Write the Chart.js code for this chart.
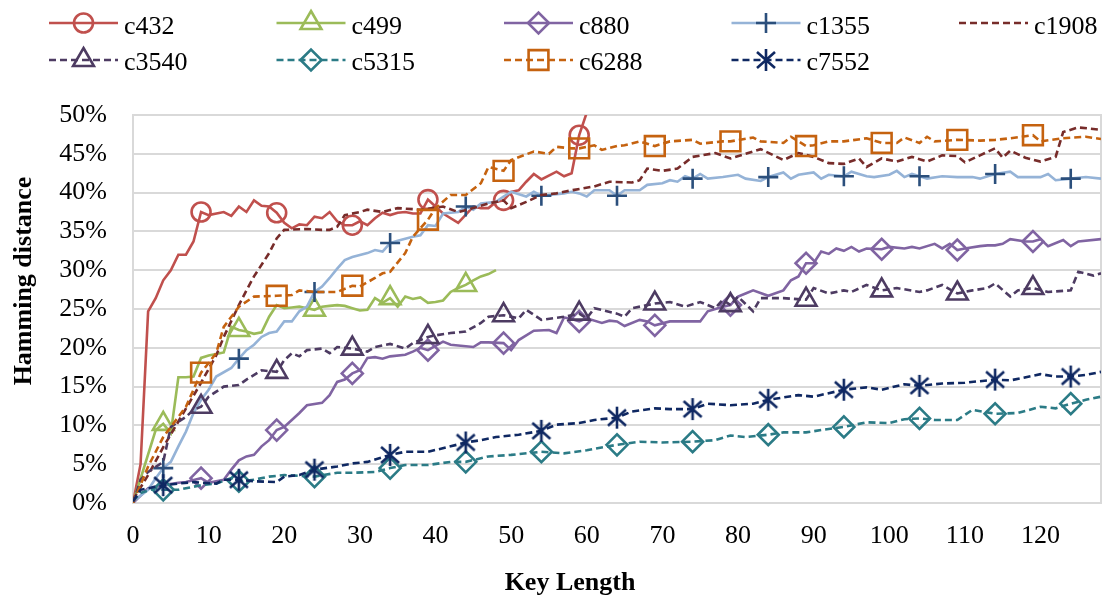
<!DOCTYPE html>
<html>
<head>
<meta charset="utf-8">
<script src="https://cdn.jsdelivr.net/npm/chart.js@4.4.0/dist/chart.umd.min.js"></script>
<style>
  html, body { margin: 0; padding: 0; background: #fff; }
  canvas { display: block; }
</style>
</head>
<body>
<canvas id="grafico" width="1103" height="598"></canvas>
<script>
// Hamming distance (%) per key length, one array of [key length, %] per circuit
const c432 = [[0,0],[1,5],[2,24.7],[3,26.4],[4,28.7],[5,30],[6,32],[7,32],[8,33.7],[9,37.5],[10,37.1],[12,37.5],[13,37],[14,38.2],[15,37.5],[16,39],[17,38.3],[18,38.2],[19,37.4],[20,36.1],[21,35.4],[22,35.9],[23,35.8],[24,36.9],[25,36.7],[26,37.5],[27,36.3],[28,35.8],[29,35.8],[30,36.3],[31,35.8],[32,36.7],[33,37.4],[34,37.1],[35,37.4],[36,37.5],[37,37.3],[38,37.3],[39,39.1],[40,38.2],[41,37.3],[43,36.1],[45,38.2],[46,38],[47,38],[48,38.8],[49,39],[50,40.1],[51,40.3],[52,41.4],[53,42.4],[54,41.7],[56,42.7],[57,42.1],[58,42.5],[59,47.4],[60,50.3]];
const c499 = [[0,0],[3,9.4],[4,10.2],[5,9],[6,16.2],[7,16.2],[8,16.3],[9,18.7],[10,19],[11,19.2],[12,19.4],[13,22.7],[14,22.3],[15,22.1],[16,21.8],[17,22],[18,24],[19,25.5],[20,25.1],[21,25.2],[22,25.3],[23,25.1],[24,24.9],[25,25.3],[26,25.4],[27,25.5],[28,25.4],[29,25.1],[30,24.8],[31,24.9],[32,26.4],[33,25.8],[34,26.4],[35,25.3],[36,26.6],[37,26.3],[38,26.5],[39,25.8],[40,25.9],[41,26.1],[42,27.2],[43,27.7],[44,28.1],[45,28.7],[46,29.2],[47,29.5],[48,30]];
const c880 = [[0,0],[2,1.9],[4,2.3],[6,2.6],[7,2.7],[9,3.2],[10,2.6],[12,3],[13,4.3],[14,5.5],[15,6],[16,6.2],[17,7.3],[18,8.1],[19,9.4],[20,9.8],[21,10.7],[22,11.6],[23,12.6],[25,12.9],[26,13.9],[27,15.6],[28,15.9],[29,16.7],[30,17.1],[31,18.7],[32,18.8],[33,18.6],[34,18.9],[36,19.1],[37,19.5],[38,20],[39,19.7],[41,20.8],[42,20.4],[45,20.1],[46,20.7],[47,20.7],[49,20.6],[50,19.7],[51,21],[53,22.2],[55,22.3],[56,21.9],[57,23.9],[58,23.7],[59,23.4],[60,23.8],[62,23.2],[63,23.5],[64,23.4],[65,22.8],[67,23.6],[68,23.4],[69,22.9],[71,23.4],[75,23.4],[76,24.7],[78,25.3],[79,25.5],[80,26.6],[81,27],[82,27.4],[84,26.7],[86,27.4],[87,28.7],[88,29.2],[89,30.9],[90,30.9],[91,32.4],[92,32.1],[93,32.8],[94,32.5],[95,33],[96,32.4],[97,32.8],[99,32.7],[100,33],[102,32.8],[103,33],[104,32.8],[106,33.4],[107,32.8],[108,33.4],[109,32.6],[110,32.8],[112,33.1],[113,33.2],[114,33.2],[115,33.4],[116,34],[118,33.7],[119,33.7],[120,34],[121,33.1],[123,33.9],[124,33.1],[125,33.7],[128,34]];
const c1355 = [[0,0.2],[2,1.7],[3,3.2],[4,4.5],[5,5.3],[6,7.3],[7,9.2],[8,11.6],[9,13.3],[10,14.6],[11,16.3],[13,17.4],[14,18.6],[15,19.7],[16,20.4],[17,21.4],[18,21.9],[19,22.1],[20,23.4],[21,23.4],[22,24.7],[23,25.3],[24,27.2],[25,27.9],[26,29],[27,30.2],[28,31.3],[29,31.7],[31,32.2],[32,32.6],[33,32.4],[34,33.5],[35,33.8],[37,34.3],[38,34.5],[39,35.8],[40,35.7],[41,37.3],[43,37.5],[44,38.2],[45,37.8],[46,38.6],[48,38.8],[49,39.5],[50,40.1],[52,39.5],[53,40.1],[54,39.6],[55,39.7],[57,39.9],[58,40.1],[59,39.9],[60,39.5],[61,40.3],[63,40.3],[64,39.6],[65,40.3],[67,40.3],[68,41],[70,41.2],[71,41.6],[72,41.4],[73,42.1],[74,41.8],[75,42.4],[76,41.8],[78,42],[80,42.3],[81,41.8],[83,41.5],[84,42],[86,42.6],[87,41.8],[88,42.3],[90,42.6],[91,41.8],[92,42.3],[94,42.1],[95,42.7],[97,42.1],[98,42],[100,42.3],[101,42.8],[102,42],[103,42.4],[104,42.1],[105,41.8],[107,42.1],[109,42],[111,42],[112,41.8],[114,42.4],[116,42.7],[117,42],[120,42],[121,42.4],[122,41.6],[124,41.8],[126,42],[128,41.8]];
const c1908 = [[0,0.4],[2,3.6],[4,7.2],[6,10.5],[9,15.5],[11,19],[12,21.4],[14,25.5],[15,27.4],[16,29.2],[18,32.2],[19,34.1],[20,35.2],[23,35.3],[25,35.2],[26,35.2],[27,35.6],[28,37.1],[30,37.5],[31,37.8],[33,37.5],[35,38],[38,37.8],[41,38.2],[43,37.5],[45,38],[47,38.6],[49,39],[50,38],[52,38.8],[54,39.7],[56,39.9],[58,40.3],[61,40.8],[63,41.4],[66,41.3],[67,41.6],[68,43.1],[70,42.8],[72,43.1],[74,44.6],[77,45.1],[79,44.4],[83,45.6],[86,44.2],[88,45.1],[90,44.6],[92,43.8],[94,43.7],[96,44.4],[97,43.3],[99,44.4],[101,44],[103,44.6],[105,44],[107,44.8],[109,44.7],[110,43.9],[112,44.8],[114,45.7],[115,44.5],[116,45.4],[118,44.5],[120,44],[122,44.6],[123,47.8],[125,48.4],[128,48.1]];
const c3540 = [[0,0],[1,3],[2,4],[4,5.3],[5,9.8],[7,11.1],[8,12],[9,12.4],[10,13.7],[12,15],[14,15.2],[15,15.9],[17,17.1],[19,16.9],[20,18.4],[21,19.3],[22,18.9],[23,19.7],[25,19.9],[26,19.3],[27,20.1],[29,19.9],[31,19.5],[32,20.1],[34,20.5],[36,19.9],[37,20.6],[39,21.4],[40,21.6],[42,21.9],[44,22.1],[46,23.2],[47,24],[49,24.2],[51,23.8],[52,24.9],[54,23.6],[57,24],[59,24.4],[60,23.8],[61,25.1],[64,24.4],[65,24],[66,25.1],[69,25.7],[71,25.9],[73,25.3],[75,25.9],[77,25.1],[78,26.2],[79,25.5],[80,26.6],[82,24.7],[83,26.4],[86,26.4],[89,26.2],[90,27.7],[92,27],[94,27.4],[95,27.2],[97,28.1],[99,27.4],[101,27.7],[104,27.2],[105,27.4],[107,28.1],[109,27],[111,27.4],[113,27.7],[114,28.3],[116,26.6],[117,27.4],[119,27.7],[121,27.2],[124,27.4],[125,29.8],[127,29.3],[128,29.6]];
const c5315 = [[0,0.2],[1,1.3],[3,1.9],[4,1.7],[6,1.7],[8,2.1],[9,2.3],[11,2.5],[13,3.2],[14,2.8],[16,3],[18,3.4],[20,3.6],[24,3.4],[27,3.9],[29,3.9],[32,4],[34,4.5],[36,4.9],[39,4.9],[42,5.3],[44,5.3],[47,6],[50,6.2],[54,6.6],[57,6.4],[60,6.8],[64,7.5],[67,7.9],[70,7.8],[74,7.9],[77,8.1],[79,8.7],[81,8.5],[84,8.8],[86,9.1],[89,9.1],[91,9.4],[94,9.8],[97,10.4],[100,10.3],[102,10.8],[104,10.9],[106,10.7],[109,10.7],[111,12],[114,11.5],[117,11.6],[120,12.4],[122,12.2],[124,12.8],[126,13.3],[128,13.7]];
const c6288 = [[0,0],[2,4.7],[4,8.5],[7,12.4],[9,16.8],[11,19.3],[12,22.7],[14,25.3],[16,26.6],[19,26.7],[21,26.8],[22,27.4],[24,27.2],[27,27.2],[29,28],[30,27.9],[32,29],[33,29.6],[34,29.8],[36,32.2],[37,34.3],[38,35.4],[39,36.5],[40,38],[42,39.7],[44,39.7],[46,41.2],[47,43.3],[49,42.8],[50,44.2],[53,45.3],[55,45],[56,45.9],[58,45.7],[59,45.7],[61,46.1],[62,45.5],[64,46],[65,46.1],[67,46.6],[69,46],[71,46.6],[74,46.8],[75,46.3],[78,46.6],[79,46.6],[82,47.1],[83,46.6],[86,46.4],[87,47.2],[89,46],[90,46.1],[92,46.6],[94,46.6],[97,47],[99,46.4],[101,46.4],[102,47.1],[104,46.4],[105,47.2],[106,46.6],[109,46.8],[112,46.7],[114,46.8],[116,47],[119,47.4],[120,46.6],[123,47],[126,47.2],[128,46.9]];
const c7552 = [[0,0.2],[1,1.7],[4,2.3],[6,2.5],[8,2.7],[11,2.5],[12,3],[14,3],[16,2.8],[19,2.7],[20,3.4],[22,3.6],[24,4.3],[27,4.7],[29,5.1],[31,5.3],[34,6.2],[36,6.6],[39,6.6],[42,7.3],[44,7.8],[46,8.1],[48,8.5],[51,8.8],[54,9.3],[56,10.1],[59,10.3],[61,10.7],[64,11],[66,11.8],[69,12.2],[71,12.1],[74,12.1],[76,12.8],[79,12.6],[82,12.8],[84,13.3],[88,13.9],[90,13.7],[94,14.6],[97,14.9],[99,14.6],[102,15.3],[104,15.1],[107,15.4],[110,15.5],[114,15.9],[116,15.8],[120,16.6],[122,16.3],[124,16.3],[126,16.5],[128,16.9]];

const xTicks = [0, 10, 20, 30, 40, 50, 60, 70, 80, 90, 100, 110, 120];
const yTicks = [0, 5, 10, 15, 20, 25, 30, 35, 40, 45, 50];

const FONTE = "'Liberation Serif', 'Times New Roman', serif";
const TRACO = [7, 4];

// asterisco de 6 braços (o "star" do Chart.js tem 8)
function asterisco(cor) {
    const c = document.createElement('canvas');
    c.width = 24; c.height = 24;
    const g = c.getContext('2d');
    g.strokeStyle = cor;
    g.lineWidth = 2.6;
    g.beginPath();
    g.moveTo(12, 1); g.lineTo(12, 23);
    g.moveTo(3, 4); g.lineTo(21, 20);
    g.moveTo(21, 4); g.lineTo(3, 20);
    g.stroke();
    return c;
}

// um marcador a cada 10 pontos, começando em "inicio"
function serie(label, data, cor, marca, opts) {
    const o = Object.assign({ tracejado: false, corMarca: cor, estilo: 'circle', raio: 9, inicio: 9 }, opts);
    return {
        label: label,
        data: data,
        borderColor: cor,
        borderWidth: 2.6,
        borderDash: o.tracejado ? TRACO : [],
        tension: 0,
        fill: false,
        pointStyle: o.estilo,
        pointBorderColor: o.corMarca,
        pointBackgroundColor: 'rgba(0,0,0,0)',
        pointBorderWidth: 2.6,
        pointRadius: ctx => {
            if (!marca || !ctx.raw) return 0;
            const x = ctx.raw[0];
            return x >= o.inicio && (x - o.inicio) % 10 === 0 ? o.raio : 0;
        },
        pointHoverRadius: 0,
        _legenda: o
    };
}

const datasets = [
    serie('c432', c432, '#c0504d', true, { estilo: 'circle', raio: 9.5, inicio: 9 }),
    serie('c499', c499, '#9bbb59', true, { estilo: 'triangle', raio: 12, inicio: 4 }),
    serie('c880', c880, '#8064a2', true, { estilo: 'rectRot', raio: 10.5, inicio: 9 }),
    serie('c1355', c1355, '#95b3d7', true, { estilo: 'cross', raio: 10, inicio: 4, corMarca: '#2b4f7c' }),
    serie('c1908', c1908, '#772c2a', false, { tracejado: true }),
    serie('c3540', c3540, '#4d3b62', true, { estilo: 'triangle', raio: 12, inicio: 9, tracejado: true }),
    serie('c5315', c5315, '#2b7b86', true, { estilo: 'rectRot', raio: 10.5, inicio: 4, tracejado: true }),
    serie('c6288', c6288, '#c5620f', true, { estilo: 'rect', raio: 14, inicio: 9, tracejado: true }),
    serie('c7552', c7552, '#0f2862', true, { estilo: asterisco('#0f2862'), raio: 10, inicio: 4, tracejado: true })
];
// séries posteriores ficam por cima
datasets.forEach((d, i) => { d.order = datasets.length - i; d._marca = d.label !== 'c1908'; });

// moldura cinza da área do gráfico
const moldura = {
    id: 'moldura',
    beforeDatasetsDraw(chart) {
        const a = chart.chartArea, ctx = chart.ctx;
        ctx.save();
        ctx.strokeStyle = '#d9d9d9';
        ctx.lineWidth = 2;
        ctx.strokeRect(a.left, a.top, a.right - a.left, a.bottom - a.top);
        ctx.restore();
    }
};

// legenda em 5 colunas, 2 linhas
const legenda = {
    id: 'legenda',
    afterDraw(chart) {
        const ctx = chart.ctx;
        ctx.save();
        chart.data.datasets.forEach((d, i) => {
            const col = i % 5, lin = Math.floor(i / 5);
            const x0 = 49 + col * 227.5;
            const yl = lin === 0 ? 23 : 60;
            const o = d._legenda;
            ctx.strokeStyle = d.borderColor;
            ctx.lineWidth = 2.6;
            ctx.setLineDash(o.tracejado ? TRACO : []);
            ctx.beginPath();
            ctx.moveTo(x0, yl);
            ctx.lineTo(x0 + 69, yl);
            ctx.stroke();
            ctx.setLineDash([]);
            if (d._marca) {
                ctx.strokeStyle = o.corMarca;
                ctx.fillStyle = 'rgba(0,0,0,0)';
                ctx.lineWidth = 2.6;
                Chart.helpers.drawPoint(ctx, { pointStyle: o.estilo, radius: o.raio, rotation: 0, borderWidth: 2.6 }, x0 + 34.5, yl);
            }
            ctx.fillStyle = '#000';
            ctx.font = '26px ' + FONTE;
            ctx.textAlign = 'left';
            ctx.textBaseline = 'alphabetic';
            ctx.fillText(d.label, x0 + 75, lin === 0 ? 34 : 70);
        });
        ctx.restore();
    }
};

// títulos dos eixos
const titulos = {
    id: 'titulos',
    afterDraw(chart) {
        const ctx = chart.ctx;
        ctx.save();
        ctx.fillStyle = '#000';
        ctx.font = 'bold 26px ' + FONTE;
        ctx.textAlign = 'center';
        ctx.textBaseline = 'alphabetic';
        ctx.fillText('Key Length', 570, 590);
        ctx.translate(31, 281);
        ctx.rotate(-Math.PI / 2);
        ctx.fillText('Hamming distance', 0, 0);
        ctx.restore();
    }
};

new Chart(document.getElementById('grafico'), {
    type: 'line',
    data: { datasets: datasets },
    options: {
        responsive: false,
        animation: false,
        devicePixelRatio: 1,
        layout: { padding: { top: 115, right: 2, left: 0, bottom: 0 } },
        plugins: { legend: { display: false }, tooltip: { enabled: false } },
        scales: {
            x: {
                type: 'linear',
                min: 0,
                max: 128,
                afterFit: s => { s.height = 95; },
                afterBuildTicks: s => { s.ticks = xTicks.map(v => ({ value: v })); },
                grid: { display: false },
                border: { display: false },
                ticks: { color: '#000', font: { family: FONTE, size: 26 }, padding: 10, maxRotation: 0, autoSkip: false }
            },
            y: {
                min: 0,
                max: 50,
                afterFit: s => { s.width = 133; },
                afterBuildTicks: s => { s.ticks = yTicks.map(v => ({ value: v })); },
                grid: { color: '#d9d9d9', lineWidth: 2, drawTicks: false },
                border: { display: false },
                ticks: { color: '#000', font: { family: FONTE, size: 26 }, padding: 26, callback: v => v + '%' }
            }
        }
    },
    plugins: [moldura, legenda, titulos]
});
</script>
</body>
</html>
